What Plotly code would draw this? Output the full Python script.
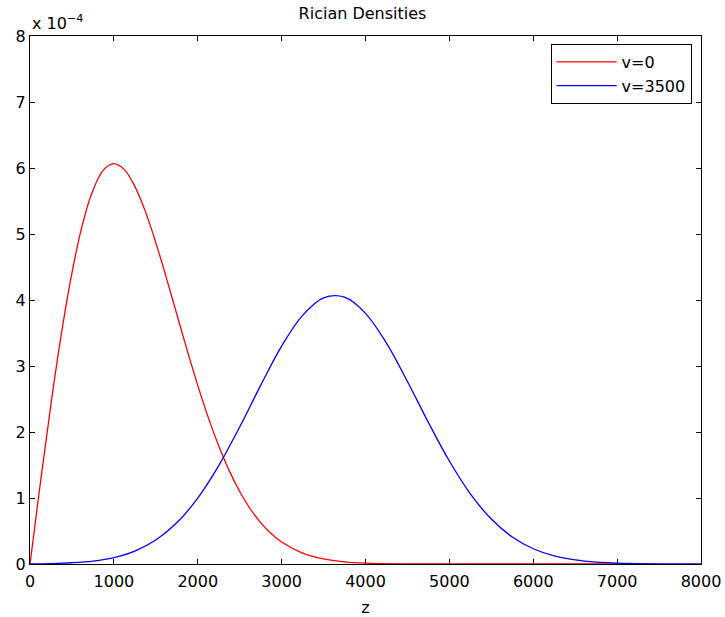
import plotly.graph_objects as go

# values (density in units of 1e-4)
z_red = [0, 125, 250, 375, 500, 625, 750, 875, 1000, 1125, 1250, 1375, 1500, 1625,
         1750, 1875, 2000, 2125, 2250, 2375, 2500, 2625, 2750, 2875, 3000, 3250,
         3500, 3750, 4000, 4500, 5000, 5500, 6000, 6500, 7000]
d_red = [0, 1.240, 2.423, 3.495, 4.412, 5.141, 5.661, 5.967, 6.065, 5.975, 5.722,
         5.343, 4.870, 4.340, 3.785, 3.233, 2.707, 2.222, 1.790, 1.415, 1.098,
         0.837, 0.627, 0.461, 0.333, 0.165, 0.077, 0.033, 0.013, 0.002, 0, 0, 0, 0, 0]

z_blue = [0, 250, 500, 750, 1000, 1250, 1500, 1750, 2000, 2250, 2500, 2750, 3000,
          3250, 3500, 3750, 4000, 4250, 4500, 4750, 5000, 5250, 5500, 5750, 6000,
          6250, 6500, 6750, 7000, 7500, 8000]
d_blue = [0, 0.006, 0.019, 0.045, 0.098, 0.196, 0.363, 0.624, 0.998, 1.490, 2.076,
          2.707, 3.301, 3.767, 4.032, 4.042, 3.798, 3.346, 2.765, 2.144, 1.560,
          1.064, 0.681, 0.409, 0.231, 0.122, 0.061, 0.028, 0.012, 0.002, 0]

scale = 1e-4
font = "DejaVu Sans, Liberation Sans, sans-serif"

fig = go.Figure()
fig.add_trace(go.Scatter(x=z_red, y=[v * scale for v in d_red], name="v=0",
                         mode="lines", line=dict(color="#ff0000", width=1.3, shape="spline")))
fig.add_trace(go.Scatter(x=z_blue, y=[v * scale for v in d_blue], name="v=3500",
                         mode="lines", line=dict(color="#0000ff", width=1.3, shape="spline")))

axis_style = dict(showline=True, linecolor="black", linewidth=1, mirror="ticks",
                  ticks="inside", ticklen=5, tickcolor="black", showgrid=False,
                  zeroline=False, automargin=False,
                  tickfont=dict(size=16, color="black", family=font))

fig.update_layout(
    width=725, height=617,
    margin=dict(l=30, r=24, t=36, b=53),
    paper_bgcolor="white", plot_bgcolor="white",
    font=dict(family=font, size=16, color="black"),
    title=dict(text="Rician Densities", x=0.5, xanchor="center", y=0.988, yanchor="top",
               font=dict(size=16, family=font, color="black")),
    xaxis=dict(range=[0, 8000], tickvals=list(range(0, 8001, 1000)),
               ticklabelstandoff=3,
               title=dict(text="z", standoff=11, font=dict(size=16)), **axis_style),
    yaxis=dict(range=[0, 8e-4], tickvals=[i * 1e-4 for i in range(9)],
               ticktext=[str(i) for i in range(9)], **axis_style),
    legend=dict(x=0.986, xanchor="right", y=0.985, yanchor="top",
                bordercolor="black", borderwidth=1, bgcolor="white",
                itemwidth=60, font=dict(size=16, family=font)),
    showlegend=True,
)

fig.add_annotation(text="x 10<sup>\u22124</sup>", xref="paper", yref="paper",
                   x=0.0, y=1.0, xanchor="left", yanchor="bottom", showarrow=False,
                   font=dict(size=16, family=font, color="black"), yshift=1)

# drop the page's default 8px body margin so the figure sits at the window corner
fig.write_html("out.html", config={"displayModeBar": False},
               post_script="document.body.style.margin='0';")
